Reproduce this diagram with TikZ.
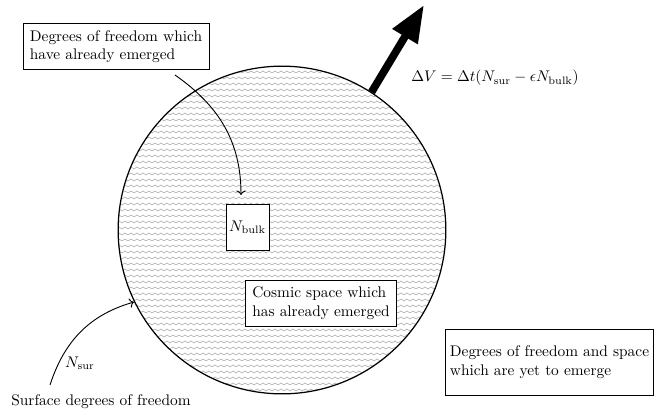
\documentclass[tikz,border=0pt]{standalone}
\usepackage{amsmath,amssymb}
\usepackage{tikz}
\usetikzlibrary{arrows.meta,patterns,positioning}

\pgfdeclarepatternformonly{zigzagrows}{\pgfpoint{0pt}{0pt}}{\pgfpoint{4.2pt}{4pt}}{\pgfpoint{4.2pt}{4pt}}{
  \pgfsetlinewidth{0.3pt}
  \pgfpathmoveto{\pgfpoint{0pt}{0.7pt}}
  \pgfpathlineto{\pgfpoint{2.1pt}{2.3pt}}
  \pgfpathlineto{\pgfpoint{4.2pt}{0.7pt}}
  \pgfusepath{stroke}
}

\begin{document}
\begin{tikzpicture}[x=0.65pt, y=-0.65pt]
\tikzstyle{block} = [rectangle, draw, fill=white, align=left, inner sep=4.5pt]
\tikzstyle{arrow} = [->, semithick]

\useasboundingbox (0,0) rectangle (657,416);

\node (cosmos) [circle, draw, thick, pattern=zigzagrows, pattern color=gray!85, minimum size=213pt, inner sep=0pt] at (282,230) {};

\node (emerged) [block, fill=none] at (116,46.5) {Degrees of freedom which\\have already emerged};
\node (bulk) [block, align=center, inner sep=2pt, minimum height=30pt] at (247.5,227) {$N_{\text{bulk}}$};
\node (cosmic) [block] at (321,303) {Cosmic space which\\has already emerged};
\node (future) [block, minimum height=43pt, inner sep=3pt] at (549.5,362) {Degrees of freedom and space\\which are yet to emerge};
\node (dv) at (495,78) {$\Delta V = \Delta t(N_{\text{sur}} - \epsilon N_{\text{bulk}})$};
\node (surface) at (101,402) {Surface degrees of freedom};
\node (nsur) at (80,363) {$N_{\text{sur}}$};

\coordinate (start) at (175,75);
\coordinate (bulktip) at (241,195);
\coordinate (surfstart) at (50,385);
\coordinate (surftip) at (134,302);
\coordinate (grow) at (424,5);

\draw[arrow] (start) to[out=-35, in=90] (bulktip);
\draw[arrow] (surfstart) to[out=72, in=196] (surftip);
\draw[line width=5pt, -{Triangle[length=24pt, width=18pt]}] (cosmos.57)--(grow);
\end{tikzpicture}
\end{document}
